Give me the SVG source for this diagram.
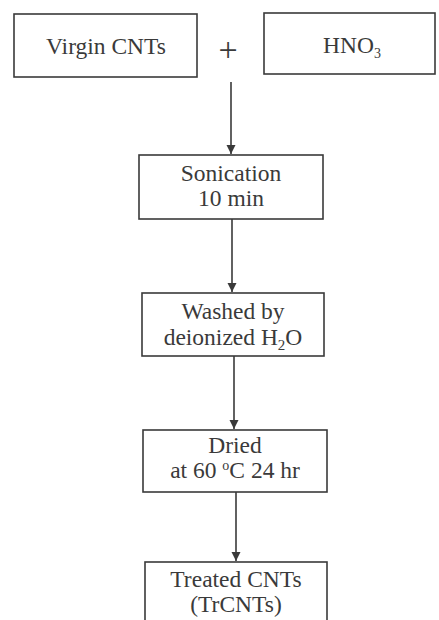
<svg xmlns="http://www.w3.org/2000/svg" width="439" height="620" viewBox="0 0 439 620">
<style>
.box{fill:none;stroke:#3a3a3a;stroke-width:1.6}
.t{font-family:"Liberation Serif","Times New Roman",serif;font-size:23.5px;fill:#3a3a3a;text-anchor:middle}
.c{stroke:#3a3a3a;stroke-width:1.6;fill:none}
</style>
<defs>
<marker id="ah" viewBox="0 0 10 10" refX="10" refY="5" markerWidth="9" markerHeight="10" markerUnits="userSpaceOnUse" orient="auto">
<path d="M0,0 L10,5 L0,10 Z" fill="#3a3a3a"/>
</marker>
</defs>
<rect width="439" height="620" fill="#ffffff"/>
<g id="virgin"><rect class="box" x="14" y="14" width="183" height="63"/><text class="t" x="106" y="54">Virgin CNTs</text></g>
<g id="plus"><text class="t" x="228" y="61" style="font-size:34px">+</text></g>
<g id="hno3"><rect class="box" x="264" y="13" width="171" height="61"/><text class="t" x="352" y="53">HNO<tspan font-size="14" dy="5">3</tspan></text></g>
<g id="sonication"><rect class="box" x="139" y="155" width="184" height="64"/><text class="t" x="231" y="181">Sonication</text><text class="t" x="231" y="206">10 min</text></g>
<g id="washed"><rect class="box" x="142" y="293" width="182" height="63"/><text class="t" x="233" y="319">Washed by</text><text class="t" x="233" y="345">deionized H<tspan font-size="15" dy="5">2</tspan><tspan dy="-5">O</tspan></text></g>
<g id="dried"><rect class="box" x="143" y="430" width="184" height="62"/><text class="t" x="235" y="453">Dried</text><text class="t" x="235" y="478">at 60 <tspan font-size="14" dy="-8">o</tspan><tspan dy="8">C 24 hr</tspan></text></g>
<g id="treated"><rect class="box" x="145" y="562" width="182" height="70"/><text class="t" x="236" y="587">Treated CNTs</text><text class="t" x="236" y="612">(TrCNTs)</text></g>
<g id="connectors">
<line class="c" x1="231" y1="82" x2="231" y2="154" marker-end="url(#ah)"/>
<line class="c" x1="232" y1="219" x2="232" y2="292" marker-end="url(#ah)"/>
<line class="c" x1="234" y1="356" x2="234" y2="429" marker-end="url(#ah)"/>
<line class="c" x1="236" y1="492" x2="236" y2="561" marker-end="url(#ah)"/>
</g>
</svg>
